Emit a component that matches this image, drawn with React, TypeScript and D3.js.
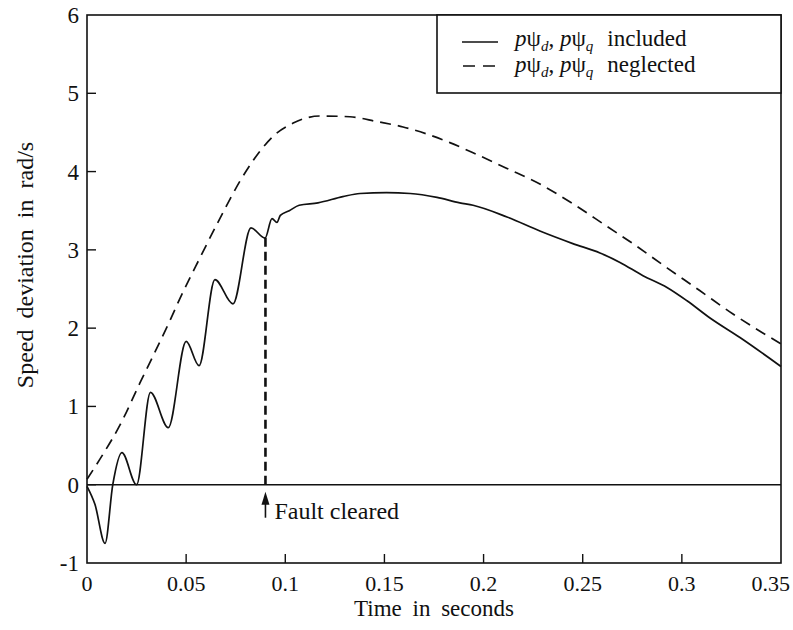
import * as d3 from 'd3'

// Time (s) and speed deviation (rad/s)
const includedT = [0, 0.004, 0.0091, 0.013, 0.0176, 0.025, 0.032, 0.041, 0.05, 0.0565, 0.0645, 0.0736, 0.0827, 0.0898, 0.0933, 0.0958, 0.0975, 0.102, 0.107, 0.1165, 0.129, 0.1377, 0.151, 0.163, 0.1765, 0.188, 0.1947, 0.2118, 0.2284, 0.245, 0.2587, 0.2688, 0.2804, 0.2925, 0.3026, 0.3142, 0.3293, 0.35]
const includedV = [-0.02, -0.25, -0.75, 0.0, 0.41, 0.0, 1.18, 0.73, 1.83, 1.52, 2.62, 2.31, 3.28, 3.15, 3.4, 3.35, 3.44, 3.5, 3.57, 3.6, 3.68, 3.72, 3.73, 3.72, 3.67, 3.6, 3.57, 3.42, 3.24, 3.08, 2.96, 2.84, 2.67, 2.52, 2.35, 2.13, 1.88, 1.51]

const neglectedT = [0, 0.0066, 0.0166, 0.0267, 0.0419, 0.0469, 0.057, 0.067, 0.0772, 0.0832, 0.0872, 0.0938, 0.104, 0.1175, 0.1326, 0.146, 0.1594, 0.1714, 0.183, 0.1947, 0.2118, 0.2284, 0.245, 0.2622, 0.2753, 0.2925, 0.309, 0.3258, 0.3394, 0.35]
const neglectedV = [0.07, 0.33, 0.76, 1.3, 2.1, 2.38, 2.9, 3.4, 3.88, 4.12, 4.26, 4.45, 4.62, 4.71, 4.7, 4.64, 4.57, 4.48, 4.37, 4.24, 4.04, 3.84, 3.59, 3.3, 3.08, 2.77, 2.48, 2.18, 1.96, 1.8]

const xTicks = [0, 0.05, 0.1, 0.15, 0.2, 0.25, 0.3, 0.35]
const xTickLabels = ['0', '0.05', '0.1', '0.15', '0.2', '0.25', '0.3', '0.35']
const yTicks = [-1, 0, 1, 2, 3, 4, 5, 6]

const faultClearT = 0.09
const faultClearV = 3.17

const W = 793
const H = 630
const M = { top: 15, right: 12, bottom: 67, left: 87 }
const FONT = '"Liberation Serif", "Times New Roman", serif'

export default function App() {
  const x = d3.scaleLinear().domain([0, 0.35]).range([M.left, W - M.right])
  const y = d3.scaleLinear().domain([-1, 6]).range([H - M.bottom, M.top])

  const line = d3.line<[number, number]>()
    .x(d => x(d[0]))
    .y(d => y(d[1]))
    .curve(d3.curveMonotoneX)

  const included = includedT.map((t, i) => [t, includedV[i]] as [number, number])
  const neglected = neglectedT.map((t, i) => [t, neglectedV[i]] as [number, number])

  const [x0, x1] = x.range()
  const [y0, y1] = y.range()

  // legend box sits in the top-right corner of the frame
  const lgX = 437
  const lgY = y1
  const lgW = x1 - lgX
  const lgH = 78

  const psiLabel = (word: string) => (
    <>
      <tspan fontStyle="italic">p</tspan>ψ
      <tspan fontStyle="italic" fontSize={15} dy={5}>d</tspan>
      <tspan dy={-5}>, </tspan>
      <tspan fontStyle="italic">p</tspan>ψ
      <tspan fontStyle="italic" fontSize={15} dy={5}>q</tspan>
      <tspan dy={-5} dx={14}>{word}</tspan>
    </>
  )

  return (
    <svg width={W} height={H} style={{ position: 'absolute', left: 0, top: 0, background: '#fff' }}
      fontFamily={FONT} fill="#111">
      {/* zero line */}
      <line x1={x0} x2={x1} y1={y(0)} y2={y(0)} stroke="#111" strokeWidth={1.4} />

      {/* ticks (inward) */}
      {xTicks.slice(1, -1).map(t => (
        <line key={'xt' + t} x1={x(t)} x2={x(t)} y1={y0} y2={y0 - 9} stroke="#111" strokeWidth={1.4} />
      ))}
      {yTicks.slice(1, -1).map(v => (
        <line key={'yt' + v} x1={x0} x2={x0 + 9} y1={y(v)} y2={y(v)} stroke="#111" strokeWidth={1.4} />
      ))}

      {/* curves */}
      <path d={line(neglected) ?? ''} fill="none" stroke="#111" strokeWidth={1.7} strokeDasharray="11,7" />
      <path d={line(included) ?? ''} fill="none" stroke="#111" strokeWidth={1.7} />

      {/* fault cleared marker */}
      <line x1={x(faultClearT)} x2={x(faultClearT)} y1={y(0)} y2={y(faultClearV)}
        stroke="#111" strokeWidth={2.6} strokeDasharray="9,5" />
      <line x1={x(faultClearT)} x2={x(faultClearT)} y1={y(0) + 33} y2={y(0) + 14}
        stroke="#111" strokeWidth={1.6} />
      <path d={`M${x(faultClearT)},${y(0) + 7} l-4,13 l8,0 z`} fill="#111" />
      <text x={x(faultClearT) + 9} y={y(0) + 34} fontSize={24}>Fault cleared</text>

      {/* frame */}
      <rect x={x0} y={y1} width={x1 - x0} height={y0 - y1} fill="none" stroke="#111" strokeWidth={1.6} />

      {/* tick labels */}
      {xTicks.map((t, i) => (
        <text key={'xl' + t} x={i === xTicks.length - 1 ? x(t) + 9 : x(t)} y={y0 + 28} fontSize={22}
          textAnchor={i === xTicks.length - 1 ? 'end' : 'middle'}>{xTickLabels[i]}</text>
      ))}
      {yTicks.map(v => (
        <text key={'yl' + v} x={x0 - 8} y={y(v)} dy="0.35em" fontSize={23} textAnchor="end">{v}</text>
      ))}

      {/* axis titles */}
      <text x={(x0 + x1) / 2} y={y0 + 53} fontSize={23} textAnchor="middle" wordSpacing={5}>Time in seconds</text>
      <text transform={`translate(33,${(y0 + y1) / 2 - 24}) rotate(-90)`} fontSize={24}
        textAnchor="middle" wordSpacing={5}>Speed deviation in rad/s</text>

      {/* legend */}
      <rect x={lgX} y={lgY} width={lgW} height={lgH} fill="#fff" stroke="#111" strokeWidth={1.6} />
      <line x1={lgX + 25} x2={lgX + 61} y1={lgY + 27} y2={lgY + 27} stroke="#111" strokeWidth={1.6} />
      <line x1={lgX + 26} x2={lgX + 58} y1={lgY + 51} y2={lgY + 51} stroke="#111" strokeWidth={1.6} strokeDasharray="12,8" />
      <text x={lgX + 78} y={lgY + 31} fontSize={23}>{psiLabel('included')}</text>
      <text x={lgX + 78} y={lgY + 57} fontSize={23}>{psiLabel('neglected')}</text>
    </svg>
  )
}
